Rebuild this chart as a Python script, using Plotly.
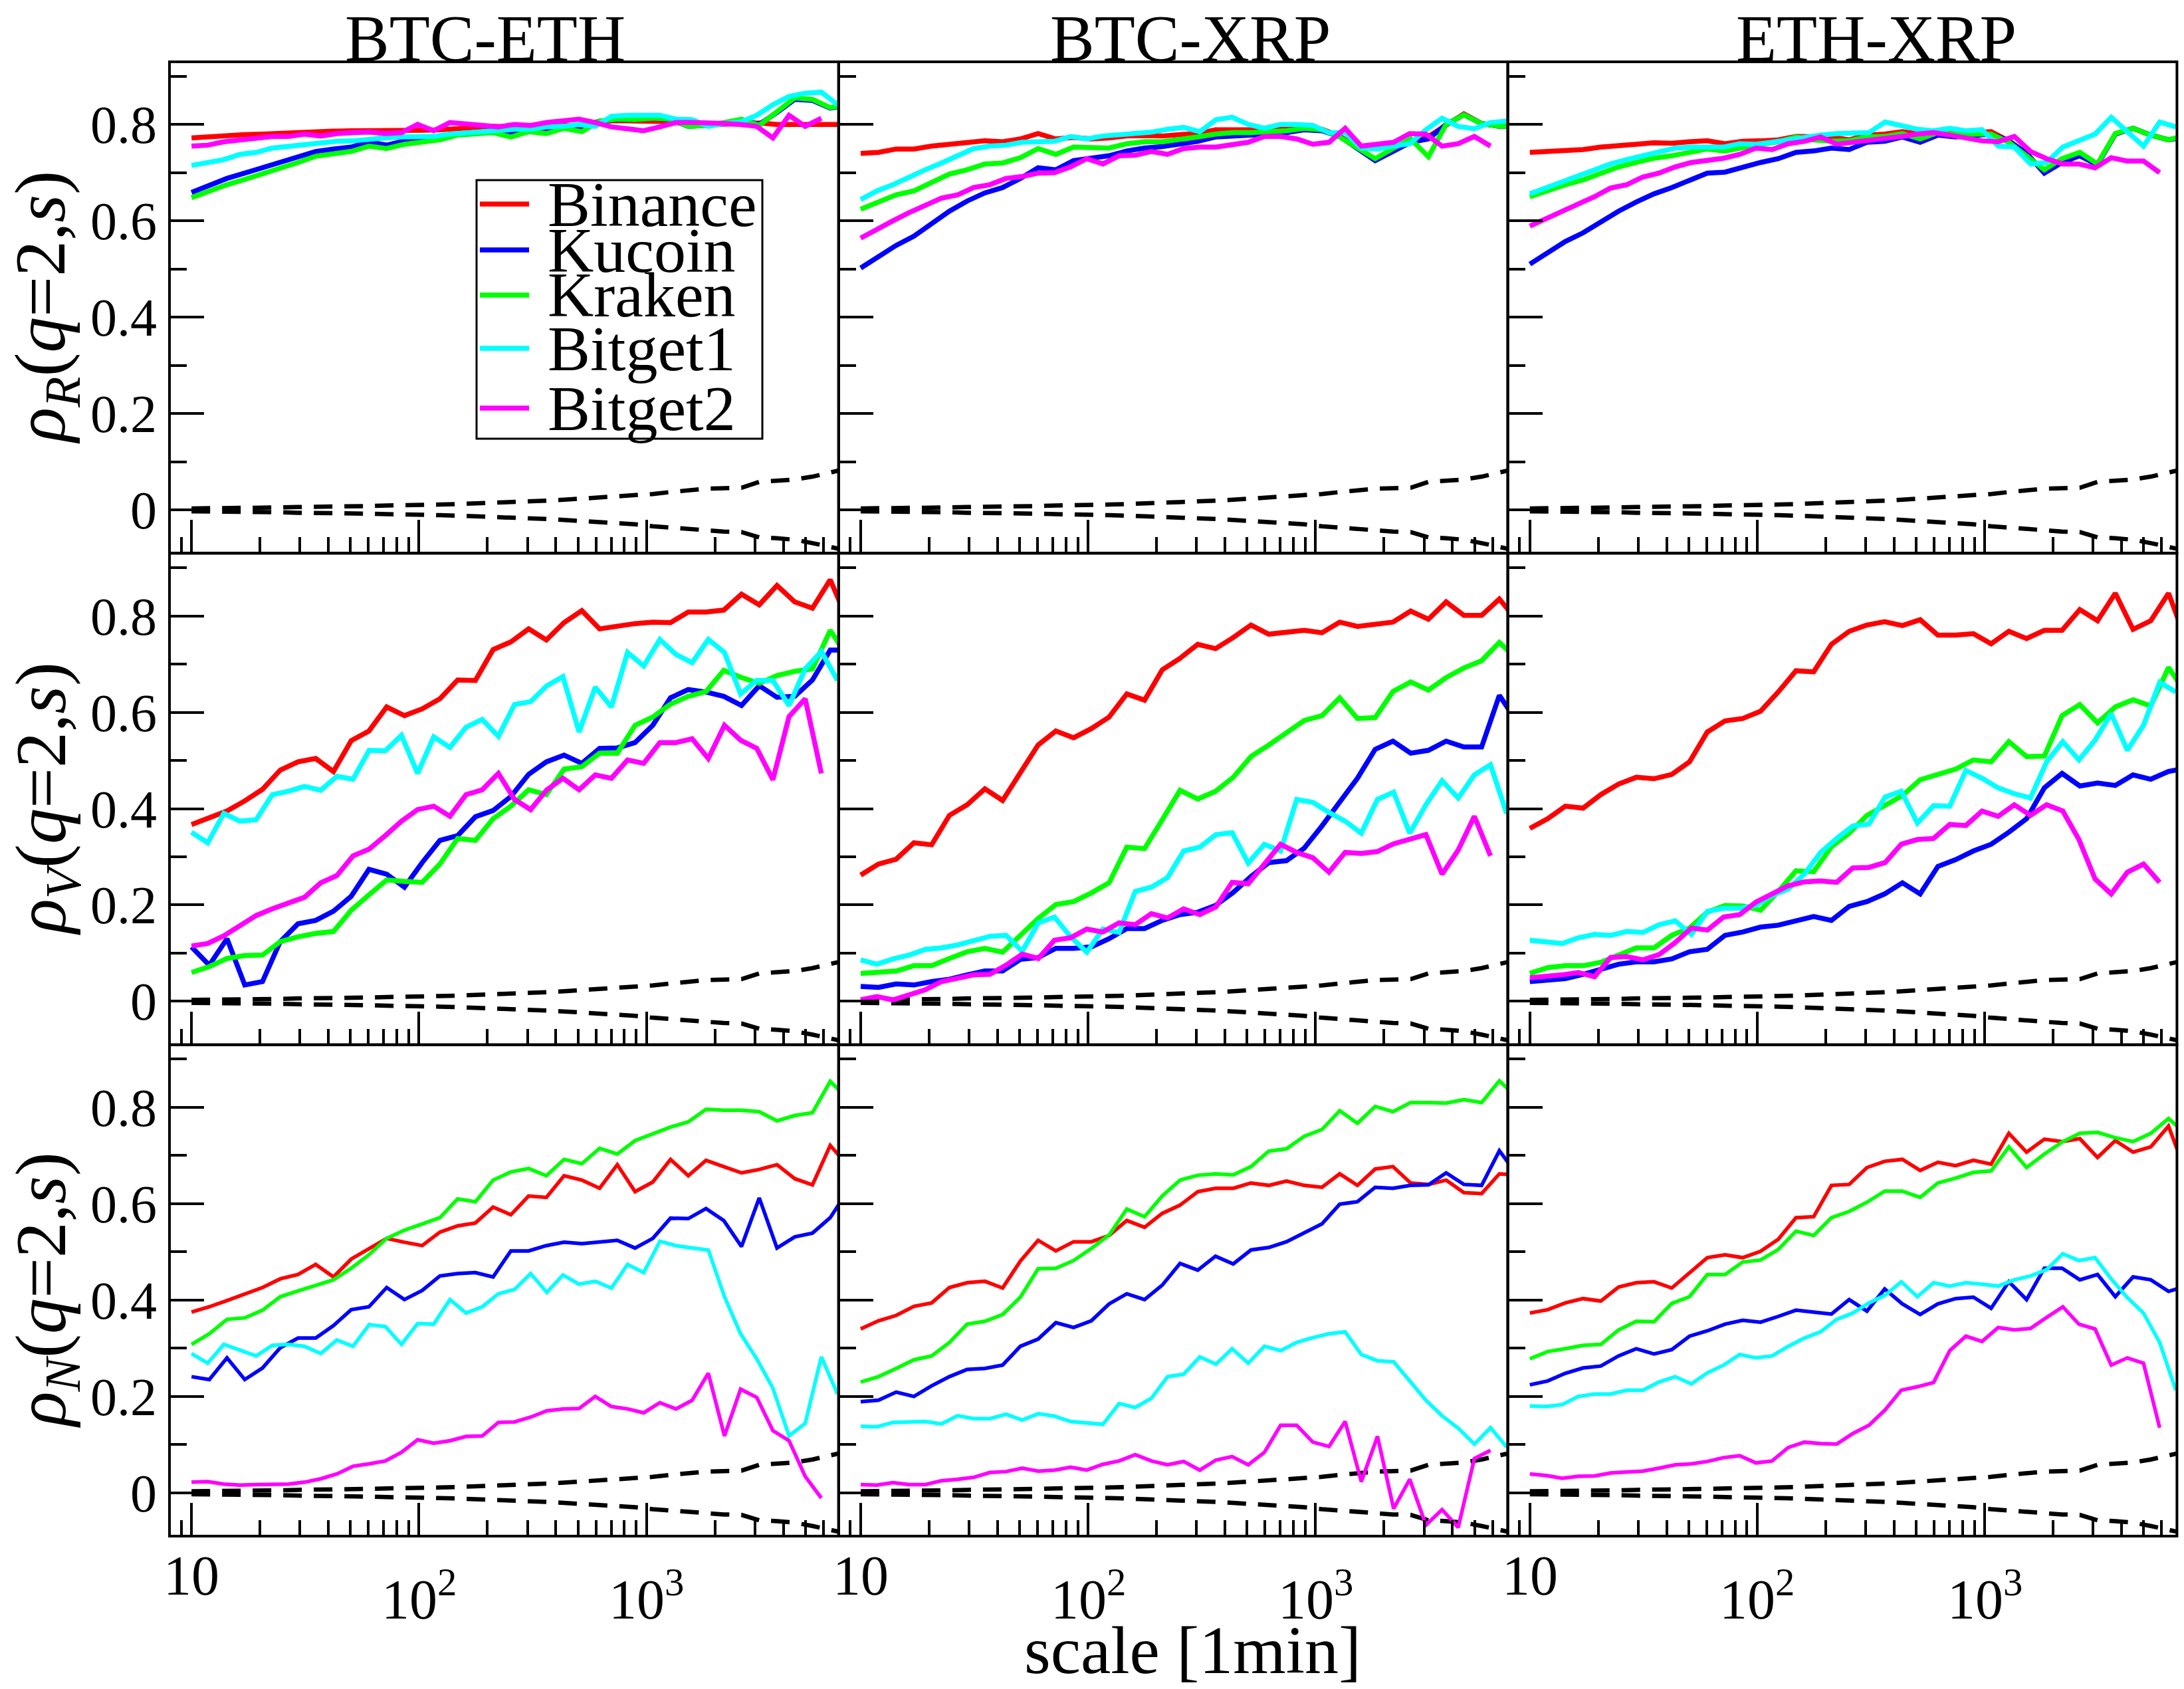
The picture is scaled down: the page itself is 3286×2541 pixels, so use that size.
import math
import plotly.graph_objects as go

# ---------------- data ----------------
SCALES_A = [10, 11.97, 14.32, 17.14, 20.51, 24.55, 29.38, 35.16, 42.07, 50.35, 60.26, 72.11,
            86.30, 103.3, 123.6, 147.9, 177.0, 211.8, 253.5, 303.4, 363.1, 434.5, 520.0, 622.3,
            744.7, 891.3, 1066.6, 1276.4, 1527.6, 1828.1, 2187.8, 2618.2, 3133.3, 3749.8, 4487.5,
            5370.3, 6426.9, 7691.2]
SCALES_B = [10, 11.78, 13.87, 16.33, 19.23, 22.65, 26.67, 31.41, 36.98, 43.55, 51.29, 60.39,
            71.12, 83.75, 98.63, 116.1, 136.8, 161.1, 189.7, 223.4, 263.0, 309.7, 364.8, 429.5,
            505.8, 595.7, 701.5, 826.0, 972.8, 1145.5, 1349.0, 1588.7, 1870.9, 2203.1, 2594.2,
            3054.9, 3597.5, 4236.4, 4988.8, 5874.9, 6918.3]

THR_UP = [0.003, 0.003, 0.004, 0.004, 0.005, 0.005, 0.006, 0.006, 0.007, 0.007, 0.008, 0.009,
          0.009, 0.010, 0.011, 0.012, 0.013, 0.014, 0.016, 0.017, 0.019, 0.021, 0.023, 0.025,
          0.027, 0.030, 0.033, 0.037, 0.041, 0.044, 0.045, 0.046, 0.058, 0.060, 0.063, 0.069,
          0.077, 0.086]
THR_LO = [-0.003, -0.003, -0.004, -0.004, -0.005, -0.005, -0.006, -0.006, -0.007, -0.007, -0.008,
          -0.009, -0.009, -0.010, -0.011, -0.012, -0.013, -0.014, -0.016, -0.017, -0.019, -0.021,
          -0.023, -0.025, -0.028, -0.030, -0.034, -0.037, -0.041, -0.043, -0.045, -0.046, -0.057,
          -0.059, -0.062, -0.069, -0.078, -0.085]

PAIRS = ["BTC-ETH", "BTC-XRP", "ETH-XRP"]
EXCHANGES = ["Binance", "Kucoin", "Kraken", "Bitget1", "Bitget2"]
COLORS = ["#ff0000", "#0000ff", "#00ff00", "#00ffff", "#ff00ff"]
Y_TITLES = ["<i>ρ</i><sub><i>R</i></sub>(<i>q</i>=2,<i>s</i>)",
            "<i>ρ</i><sub><i>V</i></sub>(<i>q</i>=2,<i>s</i>)",
            "<i>ρ</i><sub><i>N</i></sub>(<i>q</i>=2,<i>s</i>)"]
X_TITLE = "scale [1min]"

X_RANGE = [8, 7000]
Y_RANGE = [-0.09, 0.93]
XTICK_VALS = [10, 100, 1000]
XTICK_TEXT = ["10", "10<sup>2</sup>", "10<sup>3</sup>"]
XMINOR_VALS = [8, 9, 20, 30, 40, 50, 60, 70, 80, 90, 200, 300, 400, 500, 600, 700, 800, 900,
               2000, 3000, 4000, 5000, 6000, 7000]
YTICK_VALS = [0, 0.2, 0.4, 0.6, 0.8]
YTICK_TEXT = ["0", "0.2", "0.4", "0.6", "0.8"]
YMINOR_VALS = [0.1, 0.3, 0.5, 0.7, 0.9]

# rho_R
R_BE_BIN = [0.772, 0.775, 0.778, 0.779, 0.780, 0.782, 0.784, 0.785, 0.786, 0.787, 0.787, 0.786, 0.788, 0.788, 0.789, 0.791, 0.794, 0.796, 0.795, 0.797, 0.796, 0.798, 0.797, 0.806, 0.808, 0.807, 0.808, 0.806, 0.800, 0.800, 0.800, 0.801, 0.803, 0.800, 0.800, 0.800, 0.800, 0.800]
R_BE_KUC = [0.659, 0.673, 0.688, 0.699, 0.710, 0.721, 0.731, 0.744, 0.749, 0.753, 0.764, 0.757, 0.766, 0.770, 0.774, 0.780, 0.783, 0.785, 0.780, 0.787, 0.790, 0.795, 0.795, 0.807, 0.810, 0.810, 0.813, 0.810, 0.796, 0.798, 0.801, 0.810, 0.800, 0.825, 0.852, 0.850, 0.834, 0.840]
R_BE_KRA = [0.648, 0.662, 0.675, 0.686, 0.697, 0.709, 0.721, 0.734, 0.738, 0.744, 0.755, 0.750, 0.759, 0.763, 0.768, 0.778, 0.781, 0.783, 0.774, 0.785, 0.781, 0.792, 0.785, 0.807, 0.811, 0.810, 0.813, 0.811, 0.796, 0.798, 0.804, 0.811, 0.798, 0.826, 0.855, 0.852, 0.835, 0.841]
R_BE_BG1 = [0.715, 0.720, 0.727, 0.738, 0.742, 0.751, 0.755, 0.759, 0.763, 0.765, 0.766, 0.770, 0.772, 0.774, 0.775, 0.775, 0.780, 0.783, 0.785, 0.789, 0.790, 0.790, 0.795, 0.796, 0.800, 0.796, 0.817, 0.819, 0.820, 0.819, 0.811, 0.810, 0.796, 0.802, 0.805, 0.819, 0.841, 0.858, 0.865, 0.867, 0.841]
R_BE_BG2 = [0.755, 0.757, 0.764, 0.768, 0.771, 0.775, 0.775, 0.780, 0.776, 0.781, 0.783, 0.784, 0.781, 0.783, 0.800, 0.787, 0.804, 0.801, 0.800, 0.795, 0.800, 0.798, 0.804, 0.808, 0.811, 0.804, 0.795, 0.791, 0.787, 0.795, 0.804, 0.804, 0.804, 0.802, 0.800, 0.796, 0.772, 0.819, 0.796, 0.813]

R_BX_BIN = [0.740, 0.742, 0.749, 0.749, 0.755, 0.758, 0.761, 0.766, 0.764, 0.770, 0.781, 0.770, 0.773, 0.770, 0.772, 0.776, 0.777, 0.776, 0.779, 0.781, 0.789, 0.789, 0.789, 0.789, 0.792, 0.792, 0.790, 0.776, 0.752, 0.727, 0.746, 0.766, 0.775, 0.800, 0.822, 0.802, 0.796, 0.796]
R_BX_KUC = [0.502, 0.525, 0.549, 0.568, 0.593, 0.620, 0.641, 0.658, 0.669, 0.688, 0.710, 0.706, 0.725, 0.729, 0.735, 0.745, 0.751, 0.754, 0.759, 0.765, 0.774, 0.775, 0.778, 0.780, 0.783, 0.789, 0.787, 0.775, 0.751, 0.725, 0.744, 0.763, 0.770, 0.800, 0.820, 0.802, 0.796, 0.796]
R_BX_KRA = [0.624, 0.638, 0.654, 0.662, 0.680, 0.697, 0.706, 0.718, 0.720, 0.731, 0.750, 0.738, 0.753, 0.751, 0.751, 0.760, 0.764, 0.764, 0.768, 0.774, 0.780, 0.783, 0.783, 0.785, 0.787, 0.792, 0.789, 0.774, 0.751, 0.729, 0.750, 0.770, 0.733, 0.800, 0.820, 0.802, 0.796, 0.796]
R_BX_BG1 = [0.644, 0.662, 0.675, 0.691, 0.706, 0.720, 0.736, 0.750, 0.755, 0.757, 0.763, 0.763, 0.765, 0.775, 0.770, 0.776, 0.779, 0.781, 0.784, 0.790, 0.794, 0.785, 0.810, 0.815, 0.800, 0.792, 0.800, 0.800, 0.798, 0.783, 0.783, 0.751, 0.749, 0.755, 0.760, 0.789, 0.813, 0.796, 0.791, 0.804, 0.807]
R_BX_BG2 = [0.564, 0.583, 0.600, 0.617, 0.632, 0.647, 0.654, 0.669, 0.675, 0.688, 0.692, 0.699, 0.700, 0.712, 0.729, 0.718, 0.735, 0.736, 0.744, 0.738, 0.750, 0.753, 0.753, 0.759, 0.763, 0.775, 0.775, 0.770, 0.759, 0.763, 0.792, 0.755, 0.759, 0.763, 0.781, 0.780, 0.755, 0.760, 0.775, 0.755]

R_EX_BIN = [0.742, 0.744, 0.745, 0.748, 0.753, 0.757, 0.759, 0.762, 0.761, 0.764, 0.766, 0.760, 0.765, 0.766, 0.768, 0.775, 0.774, 0.774, 0.768, 0.778, 0.780, 0.785, 0.780, 0.783, 0.781, 0.783, 0.785, 0.766, 0.740, 0.700, 0.723, 0.738, 0.718, 0.780, 0.792, 0.778, 0.768, 0.775]
R_EX_KUC = [0.510, 0.534, 0.557, 0.575, 0.598, 0.620, 0.639, 0.656, 0.669, 0.685, 0.699, 0.701, 0.712, 0.721, 0.729, 0.742, 0.745, 0.751, 0.748, 0.763, 0.765, 0.774, 0.763, 0.778, 0.774, 0.778, 0.780, 0.766, 0.740, 0.699, 0.721, 0.735, 0.716, 0.780, 0.792, 0.778, 0.768, 0.775]
R_EX_KRA = [0.650, 0.663, 0.675, 0.685, 0.699, 0.712, 0.721, 0.730, 0.735, 0.742, 0.749, 0.745, 0.753, 0.759, 0.764, 0.774, 0.768, 0.765, 0.766, 0.774, 0.775, 0.781, 0.770, 0.783, 0.780, 0.781, 0.780, 0.763, 0.736, 0.706, 0.729, 0.742, 0.718, 0.781, 0.792, 0.778, 0.768, 0.778]
R_EX_BG1 = [0.656, 0.668, 0.680, 0.694, 0.706, 0.718, 0.727, 0.735, 0.744, 0.751, 0.753, 0.753, 0.753, 0.760, 0.759, 0.763, 0.768, 0.774, 0.778, 0.781, 0.783, 0.783, 0.805, 0.798, 0.790, 0.787, 0.792, 0.787, 0.789, 0.755, 0.753, 0.718, 0.721, 0.753, 0.766, 0.780, 0.815, 0.785, 0.755, 0.805, 0.795]
R_EX_BG2 = [0.589, 0.605, 0.620, 0.635, 0.650, 0.668, 0.675, 0.691, 0.699, 0.712, 0.721, 0.725, 0.730, 0.738, 0.751, 0.748, 0.760, 0.765, 0.774, 0.759, 0.763, 0.765, 0.770, 0.775, 0.780, 0.783, 0.778, 0.772, 0.766, 0.764, 0.775, 0.744, 0.729, 0.718, 0.718, 0.710, 0.731, 0.724, 0.724, 0.700]

# rho_V
V_BE_BIN = [0.367, 0.381, 0.395, 0.416, 0.440, 0.480, 0.497, 0.504, 0.477, 0.541, 0.561, 0.611, 0.593, 0.607, 0.628, 0.667, 0.666, 0.730, 0.746, 0.773, 0.750, 0.786, 0.811, 0.773, 0.779, 0.784, 0.787, 0.786, 0.808, 0.808, 0.812, 0.845, 0.823, 0.863, 0.829, 0.816, 0.875, 0.789]
V_BE_KUC = [0.113, 0.075, 0.130, 0.034, 0.041, 0.124, 0.161, 0.168, 0.187, 0.218, 0.274, 0.264, 0.237, 0.288, 0.334, 0.344, 0.383, 0.396, 0.425, 0.471, 0.497, 0.511, 0.494, 0.525, 0.526, 0.537, 0.573, 0.630, 0.647, 0.642, 0.633, 0.614, 0.655, 0.631, 0.633, 0.667, 0.729, 0.729]
V_BE_KRA = [0.060, 0.072, 0.089, 0.095, 0.096, 0.124, 0.134, 0.141, 0.145, 0.189, 0.221, 0.252, 0.249, 0.247, 0.285, 0.338, 0.334, 0.379, 0.405, 0.439, 0.429, 0.482, 0.487, 0.515, 0.515, 0.573, 0.590, 0.617, 0.633, 0.643, 0.687, 0.672, 0.660, 0.676, 0.685, 0.690, 0.770, 0.714]
V_BE_BG1 = [0.351, 0.329, 0.390, 0.374, 0.377, 0.429, 0.436, 0.446, 0.438, 0.467, 0.461, 0.521, 0.520, 0.552, 0.473, 0.549, 0.527, 0.569, 0.585, 0.550, 0.616, 0.622, 0.655, 0.674, 0.559, 0.652, 0.611, 0.724, 0.696, 0.751, 0.720, 0.703, 0.751, 0.724, 0.638, 0.666, 0.666, 0.614, 0.690, 0.726, 0.666]
V_BE_BG2 = [0.115, 0.120, 0.136, 0.156, 0.178, 0.192, 0.204, 0.216, 0.246, 0.261, 0.302, 0.316, 0.344, 0.374, 0.398, 0.405, 0.384, 0.429, 0.439, 0.473, 0.419, 0.398, 0.439, 0.463, 0.439, 0.470, 0.463, 0.501, 0.494, 0.537, 0.537, 0.545, 0.504, 0.573, 0.542, 0.525, 0.460, 0.591, 0.628, 0.473]

V_BX_BIN = [0.262, 0.285, 0.295, 0.329, 0.325, 0.386, 0.408, 0.441, 0.417, 0.473, 0.532, 0.561, 0.547, 0.566, 0.590, 0.638, 0.625, 0.688, 0.712, 0.741, 0.732, 0.755, 0.781, 0.762, 0.765, 0.770, 0.765, 0.787, 0.778, 0.782, 0.787, 0.810, 0.793, 0.829, 0.801, 0.801, 0.835, 0.790]
V_BX_KUC = [0.031, 0.029, 0.036, 0.034, 0.041, 0.046, 0.055, 0.063, 0.063, 0.087, 0.091, 0.110, 0.110, 0.113, 0.130, 0.151, 0.151, 0.168, 0.180, 0.185, 0.199, 0.226, 0.259, 0.288, 0.292, 0.318, 0.364, 0.412, 0.463, 0.523, 0.540, 0.515, 0.521, 0.540, 0.528, 0.528, 0.635, 0.580]
V_BX_KRA = [0.058, 0.060, 0.063, 0.074, 0.074, 0.089, 0.103, 0.110, 0.102, 0.137, 0.172, 0.201, 0.207, 0.225, 0.246, 0.320, 0.317, 0.377, 0.438, 0.420, 0.436, 0.465, 0.508, 0.532, 0.557, 0.583, 0.593, 0.630, 0.587, 0.589, 0.643, 0.663, 0.646, 0.672, 0.692, 0.707, 0.745, 0.710]
V_BX_BG1 = [0.086, 0.077, 0.088, 0.096, 0.108, 0.111, 0.117, 0.125, 0.135, 0.137, 0.104, 0.163, 0.175, 0.134, 0.102, 0.150, 0.143, 0.228, 0.237, 0.257, 0.312, 0.320, 0.346, 0.350, 0.287, 0.326, 0.312, 0.419, 0.413, 0.392, 0.374, 0.349, 0.419, 0.434, 0.349, 0.408, 0.458, 0.422, 0.470, 0.491, 0.390]
V_BX_BG2 = [0.003, 0.010, 0.003, 0.014, 0.024, 0.041, 0.048, 0.055, 0.056, 0.075, 0.098, 0.089, 0.127, 0.132, 0.150, 0.144, 0.163, 0.159, 0.182, 0.173, 0.192, 0.180, 0.196, 0.247, 0.244, 0.285, 0.326, 0.309, 0.298, 0.268, 0.309, 0.307, 0.311, 0.327, 0.336, 0.346, 0.264, 0.314, 0.384, 0.302]

V_EX_BIN = [0.359, 0.379, 0.405, 0.401, 0.429, 0.451, 0.465, 0.462, 0.471, 0.497, 0.559, 0.582, 0.587, 0.602, 0.642, 0.686, 0.684, 0.741, 0.768, 0.781, 0.788, 0.780, 0.792, 0.760, 0.760, 0.763, 0.742, 0.768, 0.753, 0.770, 0.770, 0.813, 0.790, 0.847, 0.772, 0.790, 0.847, 0.748]
V_EX_KUC = [0.041, 0.043, 0.047, 0.056, 0.067, 0.077, 0.082, 0.082, 0.088, 0.103, 0.108, 0.137, 0.144, 0.154, 0.158, 0.167, 0.176, 0.168, 0.197, 0.207, 0.223, 0.246, 0.223, 0.280, 0.294, 0.312, 0.326, 0.351, 0.379, 0.443, 0.473, 0.447, 0.453, 0.448, 0.470, 0.461, 0.477, 0.484]
V_EX_KRA = [0.058, 0.070, 0.074, 0.074, 0.081, 0.095, 0.111, 0.111, 0.137, 0.152, 0.185, 0.199, 0.198, 0.189, 0.228, 0.271, 0.269, 0.321, 0.349, 0.386, 0.406, 0.427, 0.460, 0.471, 0.482, 0.501, 0.497, 0.539, 0.508, 0.509, 0.593, 0.616, 0.578, 0.611, 0.626, 0.613, 0.693, 0.638]
V_EX_BG1 = [0.127, 0.124, 0.120, 0.132, 0.139, 0.137, 0.145, 0.143, 0.159, 0.167, 0.139, 0.187, 0.193, 0.193, 0.199, 0.220, 0.233, 0.264, 0.309, 0.338, 0.364, 0.368, 0.424, 0.436, 0.370, 0.406, 0.405, 0.479, 0.463, 0.443, 0.431, 0.422, 0.497, 0.539, 0.501, 0.542, 0.597, 0.521, 0.573, 0.662, 0.642]
V_EX_BG2 = [0.049, 0.051, 0.055, 0.060, 0.051, 0.091, 0.093, 0.086, 0.097, 0.122, 0.152, 0.148, 0.175, 0.180, 0.206, 0.223, 0.240, 0.248, 0.250, 0.247, 0.277, 0.278, 0.288, 0.326, 0.336, 0.338, 0.367, 0.365, 0.395, 0.384, 0.408, 0.386, 0.408, 0.395, 0.336, 0.254, 0.223, 0.268, 0.285, 0.247]

# rho_N
N_BE_BIN = [0.375, 0.386, 0.399, 0.412, 0.426, 0.444, 0.453, 0.474, 0.448, 0.485, 0.507, 0.528, 0.520, 0.513, 0.541, 0.554, 0.560, 0.593, 0.577, 0.616, 0.613, 0.658, 0.649, 0.632, 0.681, 0.625, 0.645, 0.692, 0.658, 0.690, 0.677, 0.664, 0.671, 0.681, 0.652, 0.639, 0.721, 0.679]
N_BE_KUC = [0.241, 0.235, 0.280, 0.235, 0.259, 0.301, 0.321, 0.321, 0.347, 0.380, 0.386, 0.426, 0.401, 0.420, 0.450, 0.455, 0.457, 0.448, 0.502, 0.502, 0.513, 0.520, 0.517, 0.520, 0.524, 0.508, 0.528, 0.570, 0.569, 0.590, 0.565, 0.511, 0.612, 0.508, 0.531, 0.539, 0.571, 0.627]
N_BE_KRA = [0.308, 0.330, 0.360, 0.363, 0.379, 0.407, 0.419, 0.431, 0.442, 0.466, 0.494, 0.528, 0.545, 0.558, 0.571, 0.610, 0.604, 0.649, 0.666, 0.673, 0.658, 0.692, 0.683, 0.715, 0.703, 0.731, 0.744, 0.759, 0.770, 0.796, 0.794, 0.794, 0.791, 0.772, 0.783, 0.789, 0.854, 0.817]
N_BE_BG1 = [0.289, 0.269, 0.308, 0.295, 0.284, 0.306, 0.308, 0.304, 0.289, 0.317, 0.304, 0.349, 0.345, 0.308, 0.351, 0.350, 0.401, 0.373, 0.386, 0.413, 0.422, 0.455, 0.416, 0.452, 0.433, 0.439, 0.425, 0.474, 0.457, 0.522, 0.513, 0.508, 0.504, 0.407, 0.330, 0.278, 0.217, 0.118, 0.144, 0.282, 0.205]
N_BE_BG2 = [0.022, 0.023, 0.018, 0.016, 0.017, 0.017, 0.018, 0.022, 0.029, 0.039, 0.055, 0.060, 0.066, 0.084, 0.110, 0.103, 0.108, 0.117, 0.118, 0.146, 0.147, 0.157, 0.170, 0.174, 0.175, 0.200, 0.179, 0.174, 0.166, 0.187, 0.174, 0.192, 0.248, 0.118, 0.215, 0.198, 0.129, 0.108, 0.034, -0.011]

N_BX_BIN = [0.340, 0.357, 0.368, 0.387, 0.394, 0.426, 0.436, 0.439, 0.425, 0.481, 0.524, 0.502, 0.521, 0.521, 0.534, 0.565, 0.551, 0.580, 0.597, 0.625, 0.632, 0.632, 0.643, 0.638, 0.647, 0.638, 0.634, 0.662, 0.638, 0.672, 0.677, 0.643, 0.640, 0.649, 0.623, 0.621, 0.662, 0.660]
N_BX_KUC = [0.189, 0.192, 0.209, 0.200, 0.222, 0.241, 0.256, 0.258, 0.265, 0.304, 0.319, 0.353, 0.343, 0.357, 0.392, 0.413, 0.401, 0.431, 0.476, 0.462, 0.491, 0.475, 0.504, 0.509, 0.521, 0.539, 0.558, 0.599, 0.604, 0.634, 0.632, 0.638, 0.639, 0.664, 0.640, 0.638, 0.710, 0.660]
N_BX_KRA = [0.230, 0.241, 0.258, 0.276, 0.284, 0.312, 0.350, 0.356, 0.370, 0.406, 0.465, 0.466, 0.482, 0.507, 0.535, 0.589, 0.573, 0.616, 0.649, 0.659, 0.662, 0.660, 0.677, 0.709, 0.714, 0.740, 0.754, 0.793, 0.767, 0.802, 0.791, 0.810, 0.810, 0.809, 0.816, 0.810, 0.855, 0.820]
N_BX_BG1 = [0.138, 0.137, 0.146, 0.147, 0.148, 0.143, 0.160, 0.154, 0.154, 0.163, 0.151, 0.164, 0.159, 0.148, 0.145, 0.142, 0.185, 0.177, 0.196, 0.241, 0.246, 0.282, 0.267, 0.299, 0.269, 0.304, 0.295, 0.312, 0.322, 0.330, 0.334, 0.287, 0.274, 0.272, 0.232, 0.192, 0.160, 0.134, 0.101, 0.135, 0.095]
N_BX_BG2 = [0.017, 0.016, 0.021, 0.017, 0.017, 0.025, 0.028, 0.032, 0.042, 0.044, 0.051, 0.045, 0.047, 0.053, 0.047, 0.059, 0.066, 0.079, 0.066, 0.058, 0.065, 0.047, 0.068, 0.075, 0.058, 0.084, 0.140, 0.140, 0.105, 0.096, 0.148, 0.023, 0.117, -0.033, 0.028, -0.067, -0.035, -0.072, 0.071, 0.088]

N_EX_BIN = [0.373, 0.380, 0.394, 0.403, 0.398, 0.427, 0.436, 0.438, 0.425, 0.457, 0.488, 0.494, 0.488, 0.501, 0.526, 0.571, 0.573, 0.638, 0.640, 0.675, 0.688, 0.692, 0.669, 0.686, 0.679, 0.690, 0.682, 0.746, 0.707, 0.734, 0.729, 0.735, 0.696, 0.731, 0.707, 0.718, 0.761, 0.662]
N_EX_KUC = [0.224, 0.232, 0.248, 0.259, 0.263, 0.284, 0.299, 0.288, 0.297, 0.325, 0.336, 0.350, 0.358, 0.354, 0.366, 0.379, 0.375, 0.371, 0.401, 0.377, 0.423, 0.392, 0.370, 0.392, 0.403, 0.406, 0.383, 0.438, 0.401, 0.466, 0.466, 0.442, 0.453, 0.407, 0.448, 0.442, 0.418, 0.429]
N_EX_KRA = [0.278, 0.293, 0.299, 0.306, 0.308, 0.338, 0.356, 0.355, 0.393, 0.407, 0.453, 0.453, 0.479, 0.483, 0.505, 0.543, 0.534, 0.571, 0.584, 0.603, 0.626, 0.626, 0.613, 0.643, 0.653, 0.665, 0.668, 0.718, 0.675, 0.703, 0.728, 0.746, 0.748, 0.737, 0.729, 0.746, 0.777, 0.744]
N_EX_BG1 = [0.180, 0.179, 0.183, 0.200, 0.205, 0.205, 0.213, 0.213, 0.230, 0.241, 0.226, 0.249, 0.265, 0.287, 0.280, 0.284, 0.304, 0.321, 0.334, 0.360, 0.373, 0.394, 0.410, 0.438, 0.407, 0.436, 0.429, 0.436, 0.433, 0.429, 0.442, 0.450, 0.463, 0.496, 0.482, 0.488, 0.444, 0.405, 0.373, 0.312, 0.213]
N_EX_BG2 = [0.039, 0.036, 0.030, 0.034, 0.035, 0.041, 0.043, 0.045, 0.051, 0.058, 0.060, 0.065, 0.073, 0.077, 0.062, 0.066, 0.094, 0.105, 0.102, 0.101, 0.123, 0.140, 0.172, 0.213, 0.220, 0.229, 0.295, 0.325, 0.314, 0.343, 0.338, 0.341, 0.364, 0.386, 0.350, 0.340, 0.265, 0.280, 0.269, 0.135]

PANELS = [
    [[R_BE_BIN, R_BE_KUC, R_BE_KRA, R_BE_BG1, R_BE_BG2],
     [R_BX_BIN, R_BX_KUC, R_BX_KRA, R_BX_BG1, R_BX_BG2],
     [R_EX_BIN, R_EX_KUC, R_EX_KRA, R_EX_BG1, R_EX_BG2]],
    [[V_BE_BIN, V_BE_KUC, V_BE_KRA, V_BE_BG1, V_BE_BG2],
     [V_BX_BIN, V_BX_KUC, V_BX_KRA, V_BX_BG1, V_BX_BG2],
     [V_EX_BIN, V_EX_KUC, V_EX_KRA, V_EX_BG1, V_EX_BG2]],
    [[N_BE_BIN, N_BE_KUC, N_BE_KRA, N_BE_BG1, N_BE_BG2],
     [N_BX_BIN, N_BX_KUC, N_BX_KRA, N_BX_BG1, N_BX_BG2],
     [N_EX_BIN, N_EX_KUC, N_EX_KRA, N_EX_BG1, N_EX_BG2]],
]
GRIDS = [SCALES_A, SCALES_A, SCALES_A, SCALES_B, SCALES_B]

# ---------------- layout constants ----------------
W, H = 3286, 2541
COL_EDGES = [255, 1261.8, 2268.6, 3275.4]
ROW_EDGES = [93, 832.3, 1571.7, 2311]
FONT = "Liberation Serif, Times New Roman, serif"
LINE_W = [7.5, 7.5, 5.5]
LOG_RANGE = [math.log10(X_RANGE[0]), math.log10(X_RANGE[1])]


def px_x(v):
    return v / W


def px_y(v):
    return 1 - v / H


def xpos_paper(col, value):
    """paper x of a data value on the log x axis of column `col`."""
    d0, d1 = px_x(COL_EDGES[col]), px_x(COL_EDGES[col + 1])
    f = (math.log10(value) - LOG_RANGE[0]) / (LOG_RANGE[1] - LOG_RANGE[0])
    return d0 + f * (d1 - d0)


fig = go.Figure()
layout = dict(width=W, height=H, autosize=False, margin=dict(l=0, r=0, t=0, b=0),
              paper_bgcolor="white", plot_bgcolor="white", showlegend=False,
              font=dict(family=FONT, color="black"))
shapes = []
annotations = []

for r in range(3):
    for c in range(3):
        i = r * 3 + c + 1
        xa = "x" if i == 1 else f"x{i}"
        ya = "y" if i == 1 else f"y{i}"
        # threshold dashed lines
        for thr in (THR_UP, THR_LO):
            fig.add_trace(go.Scatter(x=SCALES_A, y=thr, mode="lines", xaxis=xa, yaxis=ya,
                                     line=dict(color="black", width=6.5, dash="28px,18px"),
                                     hoverinfo="skip", showlegend=False))
        for k, (name, col) in enumerate(zip(EXCHANGES, COLORS)):
            vals = PANELS[r][c][k]
            grid = GRIDS[k][:len(vals)]
            fig.add_trace(go.Scatter(x=grid, y=vals, mode="lines", name=name, xaxis=xa, yaxis=ya,
                                     line=dict(color=col, width=LINE_W[r]), showlegend=False))
        left = (c == 0)
        layout["xaxis" if i == 1 else f"xaxis{i}"] = dict(
            type="log", range=LOG_RANGE, anchor=ya,
            domain=[px_x(COL_EDGES[c]), px_x(COL_EDGES[c + 1])],
            showline=False, showgrid=False, zeroline=False,
            ticks="inside", ticklen=50, tickwidth=3.5, tickcolor="black",
            tickmode="array", tickvals=XTICK_VALS, ticktext=XTICK_TEXT,
            showticklabels=False,
            minor=dict(ticks="inside", ticklen=24, tickwidth=3.5, tickcolor="black",
                       tickmode="array", tickvals=XMINOR_VALS, showgrid=False),
        )
        layout["yaxis" if i == 1 else f"yaxis{i}"] = dict(
            range=Y_RANGE, anchor=xa,
            domain=[px_y(ROW_EDGES[r + 1]), px_y(ROW_EDGES[r])],
            showline=False, showgrid=False, zeroline=False,
            ticks="inside", ticklen=52, tickwidth=3.5, tickcolor="black",
            tickmode="array", tickvals=YTICK_VALS, ticktext=YTICK_TEXT,
            showticklabels=left, tickfont=dict(family=FONT, size=80, color="black"),
            ticklabelstandoff=18,
            minor=dict(ticks="inside", ticklen=26, tickwidth=3.5, tickcolor="black",
                       tickmode="array", tickvals=YMINOR_VALS, showgrid=False),
        )
        shapes.append(dict(type="rect", xref=f"{xa} domain", yref=f"{ya} domain",
                           x0=0, x1=1, y0=0, y1=1, line=dict(color="black", width=4),
                           layer="above"))

# bottom-row tick labels, top-aligned like the original (10^n sits lower than plain 10)
for c in range(3):
    for val, txt in zip(XTICK_VALS, XTICK_TEXT):
        plain = "<sup>" not in txt
        annotations.append(dict(text=txt, xref="paper", yref="paper", x=xpos_paper(c, val),
                                y=px_y(2322 if plain else 2346), xanchor="center",
                                yanchor="top", showarrow=False,
                                font=dict(family=FONT, size=84, color="black")))

# column titles
TITLE_X = [729.5, 1791, 2822.5]
for c, pair in enumerate(PAIRS):
    annotations.append(dict(text=pair, xref="paper", yref="paper", x=px_x(TITLE_X[c]),
                            y=1.0, xanchor="center", yanchor="top", showarrow=False,
                            font=dict(family=FONT, size=100, color="black")))
# row y titles
for r in range(3):
    yc = (ROW_EDGES[r] + ROW_EDGES[r + 1]) / 2
    annotations.append(dict(text=Y_TITLES[r], xref="paper", yref="paper", x=px_x(69),
                            y=px_y(yc), xanchor="center", yanchor="middle", textangle=-90,
                            showarrow=False, font=dict(family=FONT, size=108, color="black")))
# x title
annotations.append(dict(text=X_TITLE, xref="paper", yref="paper", x=px_x(1794), y=0.0,
                        xanchor="center", yanchor="bottom", showarrow=False,
                        font=dict(family=FONT, size=102, color="black")))

# legend (drawn inside the first panel)
LEG_BOX = (717, 271, 1147, 660)
LEG_Y = [307, 376, 444, 524, 614]
shapes.append(dict(type="rect", xref="paper", yref="paper", x0=px_x(LEG_BOX[0]),
                   x1=px_x(LEG_BOX[2]), y0=px_y(LEG_BOX[3]), y1=px_y(LEG_BOX[1]),
                   line=dict(color="black", width=3), fillcolor="white", layer="above"))
for name, col, yy in zip(EXCHANGES, COLORS, LEG_Y):
    shapes.append(dict(type="line", xref="paper", yref="paper", x0=px_x(722), x1=px_x(796),
                       y0=px_y(yy), y1=px_y(yy), line=dict(color=col, width=7.5), layer="above"))
    annotations.append(dict(text=name, xref="paper", yref="paper", x=px_x(822), y=px_y(yy),
                            xanchor="left", yanchor="middle", showarrow=False,
                            font=dict(family=FONT, size=96, color="black")))

layout["shapes"] = shapes
layout["annotations"] = annotations
fig.update_layout(**layout)
fig.write_html("out.html")
